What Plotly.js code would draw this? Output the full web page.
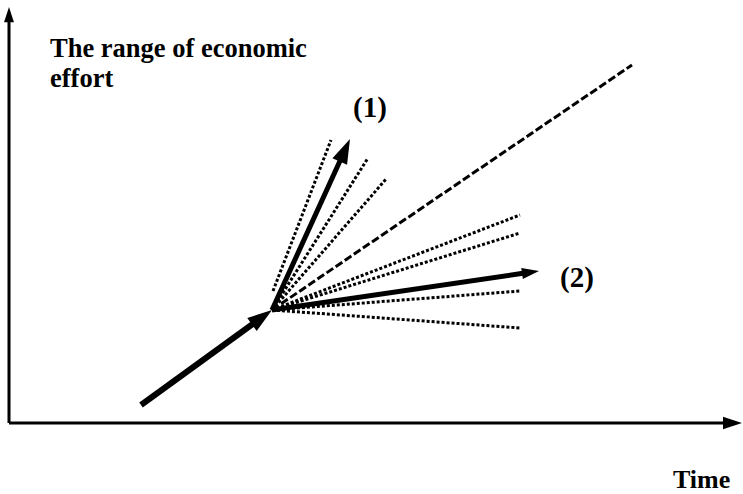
<!DOCTYPE html>
<html>
<head>
<meta charset="utf-8">
<script src="https://cdn.plot.ly/plotly-3.0.1.min.js"></script>
<style>html,body{margin:0;padding:0;background:#fff}#chart{width:743px;height:494px}</style>
</head>
<body>
<div id="chart"></div>
<script>
// Conceptual diagram data (x = time units, y = effort units)
const pivot = [263, 113];
const trendX = [132, 263];
const trendY = [18, 113];
const path1End = [341, 284];
const path2End = [530, 152];
const dashedEnd = [623, 358];
const fan1StartX = [264, 263, 263];
const fan1StartY = [132, 113, 113];
const fan1EndX = [322, 359, 378];
const fan1EndY = [283, 265, 245];
const fan2EndX = [511, 511, 511, 511];
const fan2EndY = [208, 190, 132, 95];
const xAxisX = [0, 733];
const xAxisY = [0, 0];
const yAxisX = [0, 0];
const yAxisY = [0, 416];
const titleLines = ['The range of economic', 'effort'];
const labelText = ['(1)', '(2)', 'Time'];
const labelX = [361, 568, 692];
const labelY = [316, 146, -56];
const labelSize = [29, 29, 26];

const FAMILY = "'Liberation Serif', 'Times New Roman', Times, serif";
const traces = [];

function arrowTrace(xs, ys, width, headSize) {
  return {
    x: xs, y: ys, type: 'scatter', mode: 'lines+markers', hoverinfo: 'skip',
    line: {color: '#000', width: width},
    marker: {symbol: 'arrow', angleref: 'previous', size: [0, headSize], sizemode: 'diameter', color: '#000', opacity: 1, line: {width: 0}},
    cliponaxis: false
  };
}
function lineTrace(xs, ys, width, dash) {
  return {
    x: xs, y: ys, type: 'scatter', mode: 'lines', hoverinfo: 'skip',
    line: {color: '#000', width: width, dash: dash}, cliponaxis: false
  };
}

// dotted fans
for (let i = 0; i < fan1EndX.length; i++) {
  traces.push(lineTrace([fan1StartX[i], fan1EndX[i]], [fan1StartY[i], fan1EndY[i]], 3, '3px,2px'));
}
for (let i = 0; i < fan2EndX.length; i++) {
  traces.push(lineTrace([pivot[0], fan2EndX[i]], [pivot[1], fan2EndY[i]], 3, '3px,2px'));
}
// dashed line
traces.push(lineTrace([pivot[0], dashedEnd[0]], [pivot[1], dashedEnd[1]], 3, '8px,3px'));
// axes
traces.push(arrowTrace(xAxisX, xAxisY, 3, 20));
traces.push(arrowTrace(yAxisX, yAxisY, 3, 16));
// thick arrows
traces.push(arrowTrace(trendX, trendY, 6, 26));
traces.push(arrowTrace([pivot[0], path1End[0]], [pivot[1], path1End[1]], 5, 26));
traces.push(arrowTrace([pivot[0], path2End[0]], [pivot[1], path2End[1]], 5, 18));

const annotations = [];
annotations.push({x: 39, y: 375, xref: 'x', yref: 'y', text: '<b>' + titleLines[0] + '</b>', showarrow: false, xanchor: 'left', yanchor: 'middle', font: {family: FAMILY, size: 26.5, color: '#000'}});
annotations.push({x: 39, y: 345, xref: 'x', yref: 'y', text: '<b>' + titleLines[1] + '</b>', showarrow: false, xanchor: 'left', yanchor: 'middle', font: {family: FAMILY, size: 26.5, color: '#000'}});
for (let i = 0; i < labelText.length; i++) {
  annotations.push({x: labelX[i], y: labelY[i], xref: 'x', yref: 'y', text: '<b>' + labelText[i] + '</b>', showarrow: false, xanchor: 'center', yanchor: 'middle', font: {family: FAMILY, size: labelSize[i], color: '#000'}});
}

const layout = {
  width: 743, height: 494,
  margin: {l: 0, r: 0, t: 0, b: 0},
  paper_bgcolor: '#fff', plot_bgcolor: '#fff',
  font: {family: FAMILY},
  showlegend: false,
  xaxis: {range: [-9, 734], visible: false, fixedrange: true},
  yaxis: {range: [-71, 423], visible: false, fixedrange: true},
  annotations: annotations
};
Plotly.newPlot('chart', traces, layout, {displayModeBar: false, staticPlot: true});
</script>
</body>
</html>
